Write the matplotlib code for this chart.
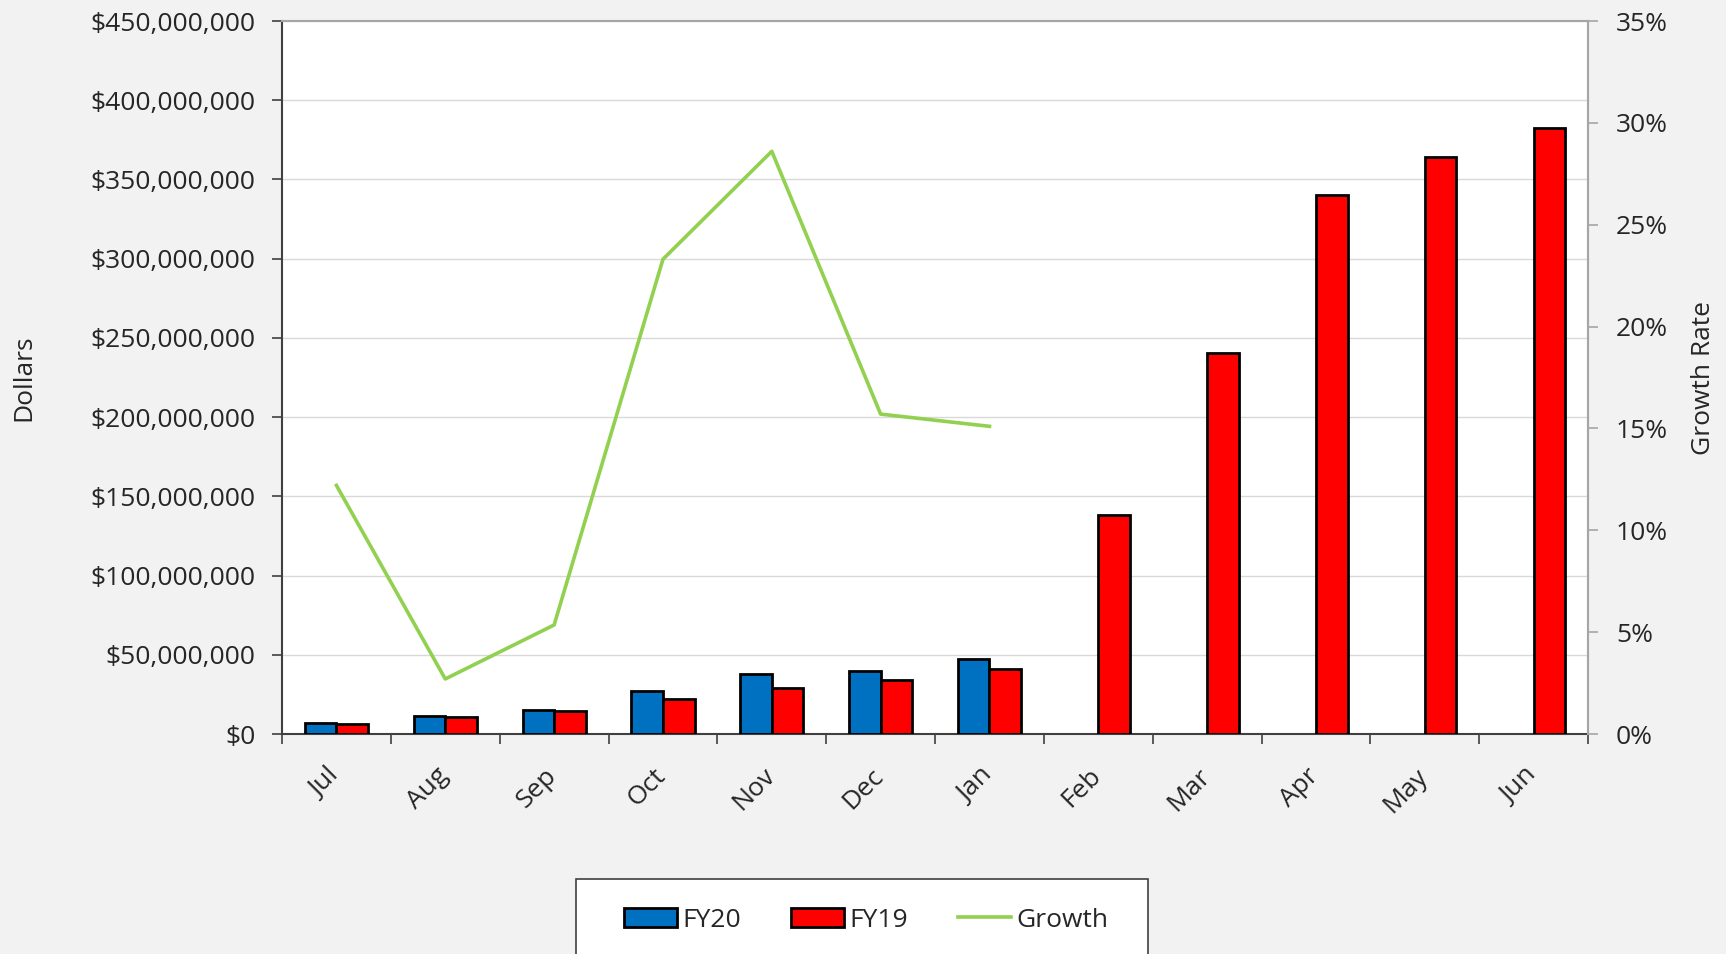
import numpy as np
import matplotlib
matplotlib.use("Agg")
import matplotlib.pyplot as plt
import matplotlib.patches as mpatches
from matplotlib.lines import Line2D
from matplotlib.ticker import FuncFormatter, MultipleLocator
import matplotlib.transforms as mtransforms

plt.rcParams['font.family'] = ['Open Sans', 'DejaVu Sans']

months = ['Jul', 'Aug', 'Sep', 'Oct', 'Nov', 'Dec', 'Jan', 'Feb', 'Mar', 'Apr', 'May', 'Jun']
fy20 = [7.0e6, 11.4e6, 15.2e6, 27.3e6, 38.1e6, 40.0e6, 47.5e6]
fy19 = [6.3e6, 10.9e6, 14.6e6, 22.1e6, 29.2e6, 34.3e6, 41.2e6,
        138e6, 240.5e6, 340e6, 364e6, 382.5e6]
growth = [12.2, 2.7, 5.35, 23.3, 28.6, 15.7, 15.1]

BLUE = '#0070c0'
RED = '#ff0000'
GREEN = '#92d050'
BG = '#f2f2f2'
FS = 19

W, H = 1726, 954
fig = plt.figure(figsize=(W / 100 + 0.001, H / 100 + 0.001), dpi=100, facecolor=BG)
left, right, top, bottom = 282, 1588, 21, 734
ax = fig.add_axes([left / W, 1 - bottom / H, (right - left) / W, (bottom - top) / H])
ax.set_facecolor('white')

x = np.arange(len(months))
bw = 0.29
ax.bar(x[:len(fy20)] - bw / 2, fy20, bw, color=BLUE, edgecolor='black', linewidth=2, zorder=3)
ax.bar(x + bw / 2, fy19, bw, color=RED, edgecolor='black', linewidth=2, zorder=3)

ax.set_xlim(-0.5, len(months) - 0.5)
ax.set_ylim(0, 450e6)
ax.yaxis.set_major_locator(MultipleLocator(50e6))
ax.yaxis.set_major_formatter(FuncFormatter(lambda v, p: '${:,.0f}'.format(v)))
ax.grid(axis='y', color='#d9d9d9', linewidth=1, zorder=0)
ax.set_axisbelow(True)

ax.set_xticks(x)
ax.set_xticklabels(months, rotation=45, ha='right')
ax.set_xticks(np.arange(-0.5, len(months)), minor=True)
ax.tick_params(axis='x', which='major', length=0, pad=21, labelsize=FS, colors='#262626')
ax.tick_params(axis='x', which='minor', length=7, width=1.2, color='#404040', direction='out')
ax.tick_params(axis='y', length=7, width=1.2, color='#404040', pad=12, labelsize=FS, labelcolor='#262626')
shift = mtransforms.ScaledTranslation(8 / 100, 0, fig.dpi_scale_trans)
for lab in ax.get_xticklabels():
    lab.set_transform(lab.get_transform() + shift)

for s in ['left', 'bottom']:
    ax.spines[s].set_color('#404040')
    ax.spines[s].set_linewidth(1.5)
ax.spines['top'].set_color('#a6a6a6')
ax.spines['top'].set_linewidth(1.5)
ax.spines['right'].set_color('#a6a6a6')
ax.spines['right'].set_linewidth(1.5)

ax.set_ylabel('Dollars', fontsize=FS, color='#262626')
ax.yaxis.set_label_coords(-(282 - 36) / (right - left), 0.5)

ax2 = ax.twinx()
ax2.plot(x[:len(growth)], growth, color=GREEN, linewidth=2.6, zorder=4)
ax2.set_ylim(0, 35)
ax2.yaxis.set_major_locator(MultipleLocator(5))
ax2.yaxis.set_major_formatter(FuncFormatter(lambda v, p: '{:.0f}%'.format(v)))
ax2.tick_params(axis='y', length=7, width=1.2, color='#a6a6a6', pad=13, labelsize=FS, labelcolor='#262626')
for s in ['left', 'bottom', 'top']:
    ax2.spines[s].set_visible(False)
ax2.spines['right'].set_color('#a6a6a6')
ax2.spines['right'].set_linewidth(1.5)
ax2.set_ylabel('Growth Rate', fontsize=FS, color='#262626')
ax2.yaxis.set_label_coords(1 + (1691 - right) / (right - left), 0.5)

# legend box running off the bottom edge
frame = mpatches.Rectangle((576 / W, -0.05), (1148 - 576) / W, 0.05 + 1 - 879 / H,
                           transform=fig.transFigure, facecolor='white',
                           edgecolor='#404040', linewidth=1.2, zorder=5)
fig.patches.append(frame)
handles = [mpatches.Patch(facecolor=BLUE, edgecolor='black', linewidth=2),
           mpatches.Patch(facecolor=RED, edgecolor='black', linewidth=2),
           Line2D([], [], color=GREEN, linewidth=2.6)]
leg = fig.legend(handles, ['FY20', 'FY19', 'Growth'], loc='center',
                 bbox_to_anchor=(866 / W, 1 - 920 / H), ncol=3, frameon=False,
                 fontsize=FS, handlelength=2.0, handleheight=0.75, handletextpad=0.2,
                 columnspacing=1.9)
leg.set_zorder(6)
for t in leg.get_texts():
    t.set_color('#262626')

fig.savefig('out.png', dpi=100, facecolor=BG)
